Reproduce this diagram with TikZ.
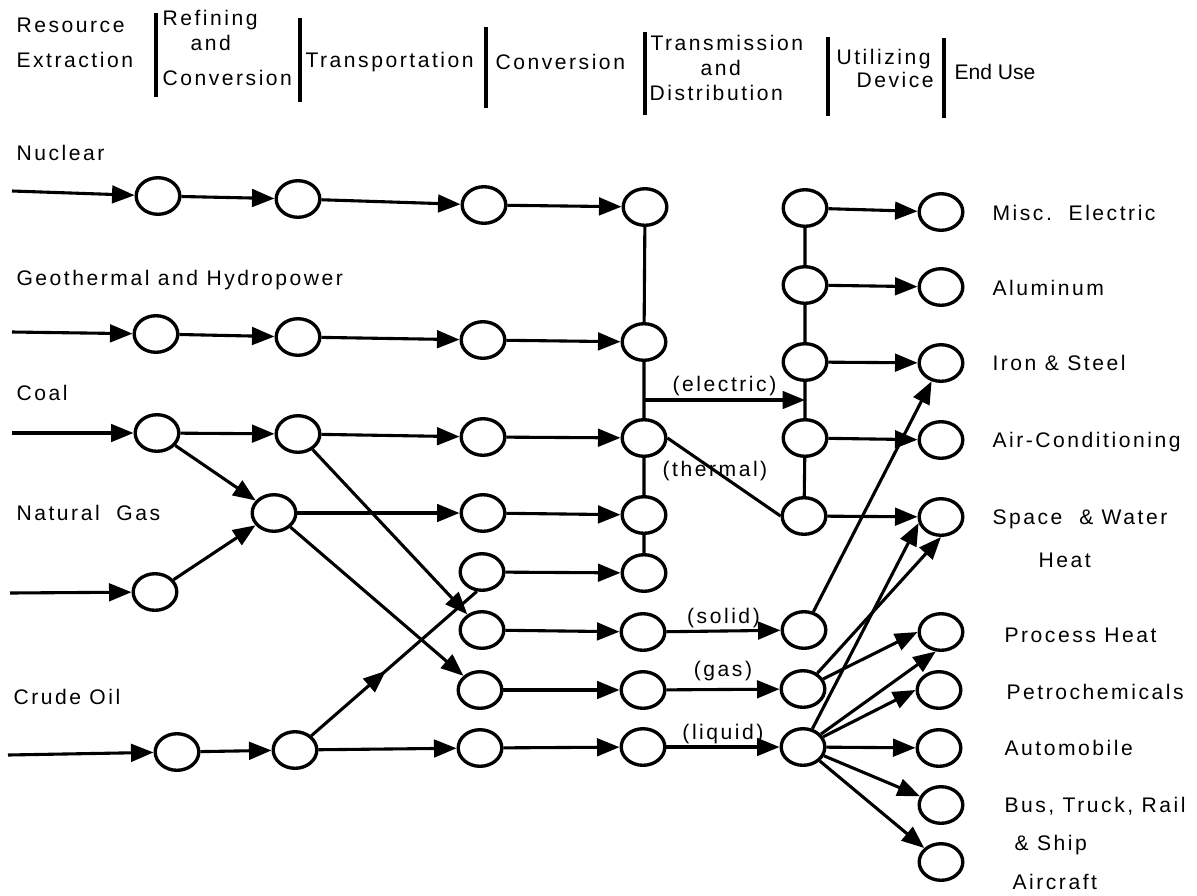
\documentclass[tikz,border=0pt]{standalone}
\usepackage{fontspec}
\setmainfont{Liberation Sans}[LetterSpace=12]
\newfontfamily\plainfont{Liberation Sans}
\usetikzlibrary{shapes.geometric,arrows.meta,decorations.markings}

\begin{document}
\begin{tikzpicture}[x=0.025cm, y=-0.025cm,
    font=\fontsize{15}{18}\selectfont,
    line width=2.2pt,
    >={Triangle[length=16pt,width=12.5pt]},
    stage/.style={draw, ellipse, line width=2.4pt, minimum width=31pt, minimum height=26pt, inner sep=0pt},
    txt/.style={anchor=base west, inner sep=0pt},
    divider/.style={line width=2.2pt},
    midflow/.style={decoration={markings, mark=at position 0.45 with {\arrow{>}}}, postaction={decorate}}]
    \useasboundingbox (0,0) rectangle (1197,895);

    \node [txt] (hres1) at (15,32) {Resource};
    \node [txt] (hres2) at (15,67) {Extraction};
    \draw [divider] (156,13) -- (156,97);
    \node [txt] (href1) at (161,25) {Refining};
    \node [txt] (href2) at (189,50) {and};
    \node [txt] (href3) at (161,85) {Conversion};
    \draw [divider] (300,18) -- (300,102);
    \node [txt] (htra) at (304,67) {Transportation};
    \draw [divider] (486,27) -- (486,108);
    \node [txt] (hcon) at (494,69) {Conversion};
    \draw [divider] (645,32) -- (645,115);
    \node [txt] (htd1) at (649,50) {Transmission};
    \node [txt] (htd2) at (699,75) {and};
    \node [txt] (htd3) at (648,100) {Distribution};
    \draw [divider] (828,37) -- (828,116);
    \node [txt] (hut1) at (835,64) {Utilizing};
    \node [txt] (hut2) at (855,87) {Device};
    \draw [divider] (944,38) -- (944,118);
    \node [txt, font=\fontsize{15}{18}\plainfont] (hend) at (953,79) {End Use};

    \node [txt] (lnuc) at (15,160) {Nuclear};
    \node [txt] (lgeo) at (15,285) {Geothermal and Hydropower};
    \node [txt] (lcoal) at (15,400) {Coal};
    \node [txt] (lng) at (15,520) {Natural~~Gas};
    \node [txt] (loil) at (12,704) {Crude Oil};

    \node [stage] (nuc1) at (158,196) {};
    \node [stage] (nuc2) at (298,199) {};
    \node [stage] (nuc3) at (484,205) {};
    \node [stage] (nuc4) at (645,207) {};
    \node [stage] (geo1) at (156,334) {};
    \node [stage] (geo2) at (298,337) {};
    \node [stage] (geo3) at (483,340) {};
    \node [stage] (geo4) at (644,342) {};
    \node [stage] (coal1) at (157,433) {};
    \node [stage] (coal2) at (298,434) {};
    \node [stage] (coal3) at (483,437) {};
    \node [stage] (coal4) at (644,438) {};
    \node [stage] (ng1) at (155,592) {};
    \node [stage] (ng2) at (274,513) {};
    \node [stage] (ng3) at (483,513) {};
    \node [stage] (ng4) at (644,515) {};
    \node [stage] (oil1) at (177,752) {};
    \node [stage] (oil2) at (295,750) {};
    \node [stage] (pow3) at (482,572) {};
    \node [stage] (pow4) at (644,573) {};
    \node [stage] (sol3) at (482,630) {};
    \node [stage] (sol4) at (643,632) {};
    \node [stage] (solU) at (804,630) {};
    \node [stage] (gas3) at (480,690) {};
    \node [stage] (gas4) at (643,690) {};
    \node [stage] (gasU) at (803,689) {};
    \node [stage] (liq3) at (480,748) {};
    \node [stage] (liq4) at (643,747) {};
    \node [stage] (liqU) at (803,747) {};
    \node [stage] (elec1) at (805,208) {};
    \node [stage] (elec2) at (805,285) {};
    \node [stage] (elec3) at (805,362) {};
    \node [stage] (elec4) at (805,438) {};
    \node [stage] (heatU) at (804,516) {};

    \node [stage] (misc) at (941,212) {};
    \node [stage] (alum) at (941,287) {};
    \node [stage] (iron) at (941,363) {};
    \node [stage] (cool) at (941,440) {};
    \node [stage] (space) at (941,517) {};
    \node [stage] (proc) at (941,632) {};
    \node [stage] (petro) at (939,690) {};
    \node [stage] (auto) at (939,748) {};
    \node [stage] (bus) at (941,805) {};
    \node [stage] (plane) at (941,862) {};

    \node [txt] (lmisc) at (991,220) {Misc.~~Electric};
    \node [txt] (lalum) at (991,295) {Aluminum};
    \node [txt] (liron) at (991,370) {Iron \& Steel};
    \node [txt] (lcool) at (991,447) {Air-Conditioning};
    \node [txt] (lspace) at (991,524) {Space~~\& Water};
    \node [txt] (lheat) at (1037,567) {Heat};
    \node [txt] (lproc) at (1003,642) {Process Heat};
    \node [txt] (lpetro) at (1005,699) {Petrochemicals};
    \node [txt] (lauto) at (1003,755) {Automobile};
    \node [txt] (lbus) at (1003,812) {Bus, Truck, Rail};
    \node [txt] (lship) at (1013,850) {\& Ship};
    \node [txt] (lplane) at (1011,889) {Aircraft};

    \coordinate (nuc0) at (12,191);
    \coordinate (geo0) at (12,332);
    \coordinate (coal0) at (12,433);
    \coordinate (ng0) at (10,593);
    \coordinate (oil0) at (8,755);
    \coordinate (elA) at (644,400);
    \coordinate (elB) at (805,400);

    \draw [->] (nuc0) -- (nuc1);
    \draw [->] (nuc1) -- (nuc2);
    \draw [->] (nuc2) -- (nuc3);
    \draw [->] (nuc3) -- (nuc4);
    \draw [->] (geo0) -- (geo1);
    \draw [->] (geo1) -- (geo2);
    \draw [->] (geo2) -- (geo3);
    \draw [->] (geo3) -- (geo4);
    \draw [->] (coal0) -- (coal1);
    \draw [->] (coal1) -- (coal2);
    \draw [->] (coal2) -- (coal3);
    \draw [->] (coal3) -- (coal4);
    \draw [->] (coal1) -- (ng2);
    \draw [->] (coal2) -- (sol3);
    \draw [->] (ng0) -- (ng1);
    \draw [->] (ng1) -- (ng2);
    \draw [->] (ng2) -- (ng3);
    \draw [->] (ng3) -- (ng4);
    \draw [->] (ng2) -- (gas3);
    \draw [->] (oil0) -- (oil1);
    \draw [->] (oil1) -- (oil2);
    \draw [->] (oil2) -- (liq3);
    \draw [midflow] (oil2) -- (pow3.255);

    \draw [->] (pow3) -- (pow4);
    \draw [->] (sol3) -- (sol4);
    \draw [->] (gas3) -- (gas4);
    \draw [->] (liq3) -- (liq4);
    \draw (nuc4) -- (geo4) -- (coal4) -- (ng4) -- (pow4);

    \draw [->] (elA) -- node [above, inner sep=2pt] {(electric)} (elB);
    \draw (coal4.east) -- node [pos=0.42, inner sep=0pt] {(thermal)} (heatU.west);
    \draw [->] (sol4) -- node [above, inner sep=1pt] {(solid)} (solU);
    \draw [->] (gas4) -- node [above, inner sep=5pt] {(gas)} (gasU);
    \draw [->] (liq4) -- node [above, inner sep=1pt] {(liquid)} (liqU);
    \draw (elec1) -- (elec2) -- (elec3) -- (elec4) -- (heatU);

    \draw [->] (elec1) -- (misc);
    \draw [->] (elec2) -- (alum);
    \draw [->] (elec3) -- (iron);
    \draw [->] (elec4) -- (cool);
    \draw [->] (heatU) -- (space);
    \draw [->] (solU) -- (iron);
    \draw [->] (gasU) -- (space.south);
    \draw [->] (gasU) -- (proc.west);
    \draw [->] (liqU) -- (space.195);
    \draw [->] (liqU) -- (proc.255);
    \draw [->] (liqU) -- (petro.west);
    \draw [->] (liqU) -- (auto);
    \draw [->] (liqU) -- (bus);
    \draw [->] (liqU) -- (plane);
\end{tikzpicture}
\end{document}
